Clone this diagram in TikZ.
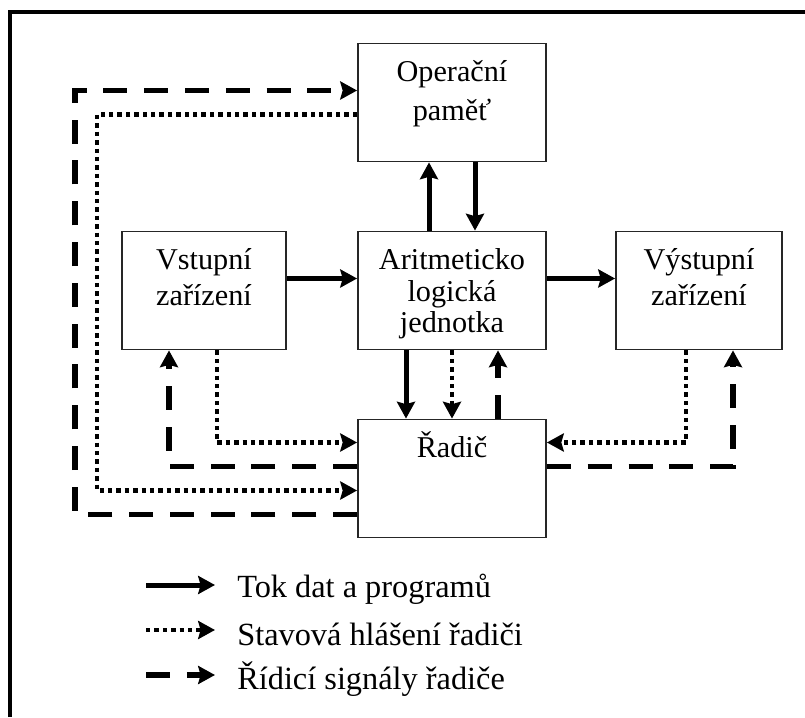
\documentclass[tikz,border=0pt]{standalone}
\usepackage{fontspec}
\setmainfont{Liberation Serif}
\usetikzlibrary{arrows.meta}
\newcommand{\blocktext}[1]{\parbox[c][2.95cm][t]{4cm}{\centering\rule{0pt}{0.95cm}#1}}

\begin{document}
\begin{tikzpicture}[
    font=\fontsize{21.5}{25.5}\selectfont,
    blok/.style={draw=black!85, line width=1.3pt, inner sep=0pt, minimum height=2.95cm},
    tip/.style={-{Stealth[length=0.42cm,width=0.45cm,inset=0.06cm]}},
    data/.style={tip, line width=0.125cm},
    stav/.style={tip, line width=0.12cm, dash pattern=on 0.11cm off 0.1cm},
    ridi/.style={tip, line width=0.14cm, dash pattern=on 0.6cm off 0.42cm},
    legenda/.style={anchor=west, inner sep=0pt, yshift=-0.1cm, font=\fontsize{23}{27}\selectfont}
]
    \useasboundingbox (0,0) rectangle (20.125,17.925);
    \draw[line width=0.1cm] (0.2375,0) |- (20.125,17.6125);

    \node[blok, minimum width=4.7cm] (op) at (11.3,15.3625) {\blocktext{Operační\\[2pt]paměť}};
    \node[blok, minimum width=4.7cm] (alu) at (11.3,10.6625) {\blocktext{Aritmeticko\\[-3pt]logická\\[-3pt]jednotka}};
    \node[blok, minimum width=4.1cm] (vstup) at (5.1,10.6625) {\blocktext{Vstupní\\zařízení}};
    \node[blok, minimum width=4.15cm] (vystup) at (17.475,10.6625) {\blocktext{Výstupní\\zařízení}};
    \node[blok, minimum width=4.7cm] (radic) at (11.3,5.9625) {\blocktext{Řadič}};

    % tok dat
    \draw[data] ([xshift=-0.575cm]alu.north) -- ([xshift=-0.575cm]op.south);
    \draw[data] ([xshift=0.575cm]op.south) -- ([xshift=0.575cm]alu.north);
    \draw[data] ([yshift=0.3cm]vstup.east) -- ([yshift=0.3cm]alu.west);
    \draw[data] ([yshift=0.3cm]alu.east) -- ([yshift=0.3cm]vystup.west);
    \draw[data] ([xshift=-1.15cm]alu.south) -- ([xshift=-1.15cm]radic.north);

    % stavova hlaseni
    \draw[stav] (alu.south) -- (radic.north);
    \draw[stav] ([xshift=0.325cm]vstup.south) |- ([yshift=0.9cm]radic.west);
    \draw[stav] ([xshift=-0.325cm]vystup.south) |- ([yshift=0.9cm]radic.east);
    \draw[stav] ([yshift=-0.3cm]op.west) -| ([xshift=-6.5cm,yshift=-0.3cm]radic.west) -- ([yshift=-0.3cm]radic.west);

    % ridici signaly
    \draw[ridi] ([xshift=1.15cm]radic.north) -- ([xshift=1.15cm]alu.south);
    \draw[ridi] ([yshift=0.3cm]radic.west) -| ([xshift=-0.875cm]vstup.south);
    \draw[ridi] ([yshift=0.3cm]radic.east) -| ([xshift=0.85cm]vystup.south);
    \draw[ridi] ([yshift=-0.9cm]radic.west) -| ([xshift=-7.05cm,yshift=0.3cm]op.west) -- ([yshift=0.3cm]op.west);

    % legenda
    \coordinate (ldataa) at (3.65,3.3);
    \coordinate (ldatab) at (5.375,3.3);
    \coordinate (lstava) at (3.65,2.175);
    \coordinate (lstavb) at (5.375,2.175);
    \coordinate (lridia) at (3.65,1.05);
    \coordinate (lridib) at (5.375,1.05);
    \draw[data] (ldataa) -- (ldatab);
    \draw[stav] (lstava) -- (lstavb);
    \draw[ridi] (lridia) -- (lridib);
    \node[legenda] (ldata) at ([xshift=0.55cm]ldatab) {Tok dat a programů};
    \node[legenda] (lstav) at ([xshift=0.55cm]lstavb) {Stavová hlášení řadiči};
    \node[legenda] (lridi) at ([xshift=0.55cm]lridib) {Řídicí signály řadiče};
\end{tikzpicture}
\end{document}
